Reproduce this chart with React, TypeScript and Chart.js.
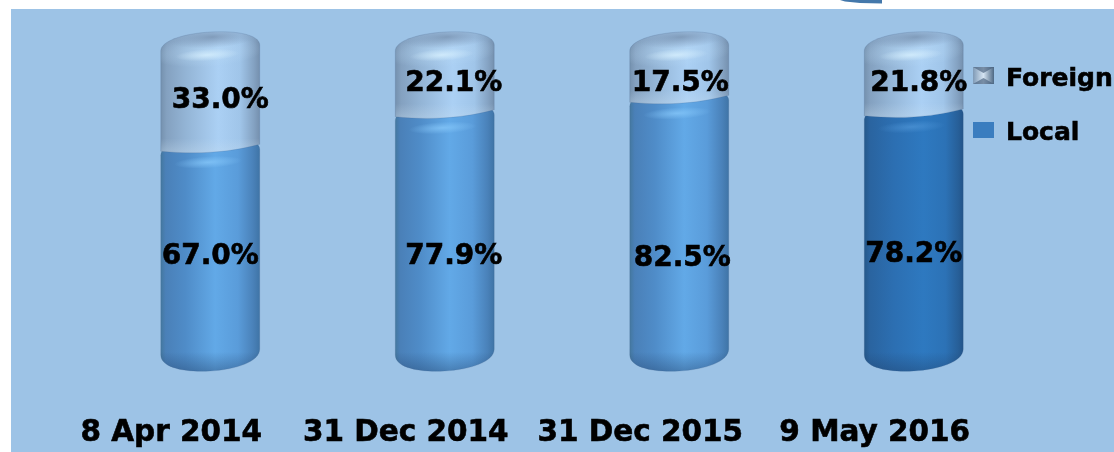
import React, { useEffect, useRef } from "react";
import { Chart, registerables } from "chart.js";

Chart.register(...registerables);

const categories = ["8 Apr 2014", "31 Dec 2014", "31 Dec 2015", "9 May 2016"];
const localValues = [67.0, 77.9, 82.5, 78.2];
const foreignValues = [33.0, 22.1, 17.5, 21.8];
const legendNames = ["Foreign", "Local"];

const FONT = '"DejaVu Sans", sans-serif';
const BG = "#9dc3e6";

type Stops = [number, string][];
const localStops: Stops = [[0, "#44789f"], [0.05, "#4a80b8"], [0.25, "#4f8cc8"], [0.55, "#62a9e7"], [0.78, "#5a9cda"], [0.93, "#4a82ba"], [1, "#3f74a6"]];
const localDarkStops: Stops = [[0, "#25588a"], [0.06, "#2a64a0"], [0.3, "#2c6fb2"], [0.6, "#2e79c0"], [0.82, "#2c72b6"], [0.95, "#275f98"], [1, "#22548a"]];
const foreignStops: Stops = [[0, "#7591ae"], [0.06, "#84a1c0"], [0.25, "#93b4d5"], [0.58, "#abd0f4"], [0.8, "#a0c5e9"], [0.94, "#84a2c2"], [1, "#7590ae"]];

const TILT = -0.06;

function cylinderPath(ctx: CanvasRenderingContext2D, cx: number, rx: number, yTop: number, yBot: number, foreign: boolean) {
  ctx.beginPath();
  // Bottom edge, right to left
  ctx.save();
  ctx.transform(1, TILT, 0, 1, cx, yBot);
  if (foreign) {
    ctx.moveTo(rx, -1);
    ctx.bezierCurveTo(rx * 0.6, 3, rx * 0.3, 4, 0, 4);
    ctx.bezierCurveTo(-rx * 0.3, 4, -rx * 0.6, 3, -rx, 0);
  } else {
    ctx.moveTo(rx, -8);
    ctx.bezierCurveTo(rx, 5, rx * 0.5, 11, 0, 11);
    ctx.bezierCurveTo(-rx * 0.5, 11, -rx, 5, -rx, -8);
  }
  ctx.restore();
  // Top edge, left to right
  ctx.save();
  ctx.transform(1, TILT, 0, 1, cx, yTop);
  ctx.lineTo(-rx, 4);
  ctx.bezierCurveTo(-rx, -6, -rx * 0.55, -12, 0, -12);
  ctx.bezierCurveTo(rx * 0.55, -12, rx, -6, rx, 4);
  ctx.restore();
  ctx.closePath();
}

function glow(ctx: CanvasRenderingContext2D, cx: number, cy: number, rx: number, ry: number, color: string, edge: string) {
  ctx.save();
  ctx.translate(cx, cy);
  ctx.rotate(TILT);
  ctx.scale(rx, ry);
  const g = ctx.createRadialGradient(0, 0, 0, 0, 0, 1);
  g.addColorStop(0, color);
  g.addColorStop(1, edge);
  ctx.fillStyle = g;
  ctx.beginPath();
  ctx.arc(0, 0, 1, 0, Math.PI * 2);
  ctx.fill();
  ctx.restore();
}

function drawSegment(ctx: CanvasRenderingContext2D, el: any, isForeign: boolean, idx: number) {
  const cx = el.x;
  const rx = el.width / 2;
  const yTop = el.y;
  const yBot = el.base;
  const dark = !isForeign && idx === 3;
  const stops = isForeign ? foreignStops : dark ? localDarkStops : localStops;
  ctx.save();
  cylinderPath(ctx, cx, rx, yTop, yBot, isForeign);
  const g = ctx.createLinearGradient(cx - rx, 0, cx + rx, 0);
  stops.forEach(([p, c]) => g.addColorStop(p, c));
  ctx.fillStyle = g;
  ctx.fill();
  ctx.clip();

  if (isForeign) {
    // Shoulder lightening, darker top face, then the highlight
    glow(ctx, cx - 4, yTop + 8, rx * 1.15, 15, "rgba(185,218,245,0.6)", "rgba(185,218,245,0)");
    glow(ctx, cx + 2, yTop - 7, rx * 0.95, 11, "rgba(122,148,178,0.85)", "rgba(125,150,180,0)");
    glow(ctx, cx - 3, yTop + 11, 32, 6, "rgba(218,242,255,0.75)", "rgba(218,242,255,0)");
    // Pale rim along the lower edge
    const b = ctx.createLinearGradient(0, yBot - 10, 0, yBot + 4);
    b.addColorStop(0, "rgba(200,222,240,0)");
    b.addColorStop(1, "rgba(200,222,240,0.35)");
    ctx.fillStyle = b;
    ctx.fillRect(cx - rx, yBot - 10, rx * 2, 16);
  } else {
    const light = dark ? "rgba(85,155,220,0.6)" : "rgba(135,200,250,0.75)";
    const lightEdge = dark ? "rgba(85,155,220,0)" : "rgba(135,200,250,0)";
    glow(ctx, cx - 2, yTop + 14, 34, 6, light, lightEdge);
    const b = ctx.createLinearGradient(0, yBot - 8, 0, yBot + 12);
    b.addColorStop(0, "rgba(30,60,100,0)");
    b.addColorStop(1, "rgba(30,60,100,0.4)");
    ctx.fillStyle = b;
    ctx.fillRect(cx - rx, yBot - 8, rx * 2, 22);
  }
  ctx.restore();

  ctx.save();
  cylinderPath(ctx, cx, rx, yTop, yBot, isForeign);
  ctx.strokeStyle = "rgba(70,100,140,0.2)";
  ctx.lineWidth = 1;
  ctx.stroke();
  ctx.restore();
}

const foreignDx = [10, 9, 1, 5];
const foreignDy = [5, 5, 12, 5];
const localDx = [0, 9, 3, 0];
const localDy = [3, 20, 29, 18];

const cylinderPlugin = {
  id: "cylinders",
  beforeDraw(chart: any) {
    const { ctx } = chart;
    ctx.save();
    ctx.fillStyle = "#ffffff";
    ctx.fillRect(0, 0, chart.width, chart.height);
    ctx.fillStyle = BG;
    ctx.fillRect(11, 9, chart.width - 11, chart.height - 9);
    // Fragment of a shape cut off by the top edge
    ctx.beginPath();
    ctx.moveTo(840, 0);
    ctx.lineTo(882, 0);
    ctx.lineTo(882, 3.5);
    ctx.lineTo(860, 3);
    ctx.lineTo(845, 1.5);
    ctx.closePath();
    ctx.fillStyle = "#4478ab";
    ctx.fill();
    ctx.restore();
  },
  beforeDatasetDraw(chart: any, args: any) {
    // Local goes first so that each Foreign lower edge lies over it
    if (chart.data.datasets[args.index].label === "Local") {
      args.meta.data.forEach((el: any, i: number) => drawSegment(chart.ctx, el, false, i));
      chart.getDatasetMeta(1).data.forEach((el: any, i: number) => drawSegment(chart.ctx, el, true, i));
    }
    return false;
  },
  afterDraw(chart: any) {
    const { ctx } = chart;
    ctx.save();
    ctx.fillStyle = "#000000";
    ctx.strokeStyle = "#000000";
    ctx.lineWidth = 0.6;
    ctx.textAlign = "center";
    ctx.textBaseline = "middle";
    ctx.font = `bold 28px ${FONT}`;
    chart.data.datasets.forEach((ds: any, d: number) => {
      const foreign = ds.label === "Foreign";
      chart.getDatasetMeta(d).data.forEach((el: any, i: number) => {
        const mid = (el.y + el.base) / 2;
        const x = el.x + (foreign ? foreignDx[i] : localDx[i]);
        const y = mid + (foreign ? foreignDy[i] : localDy[i]);
        const text = ds.data[i].toFixed(1) + "%";
        ctx.fillText(text, x, y);
        ctx.strokeText(text, x, y);
      });
    });

    // Legend
    ctx.textAlign = "left";
    ctx.textBaseline = "alphabetic";
    ctx.font = `bold 25px ${FONT}`;
    const g = ctx.createLinearGradient(973, 0, 994, 0);
    g.addColorStop(0, "#7f9ab6");
    g.addColorStop(0.5, "#d5e4f2");
    g.addColorStop(1, "#4d6884");
    ctx.fillStyle = g;
    ctx.fillRect(973, 67, 21, 17);
    ctx.fillStyle = "rgba(70,95,125,0.65)";
    ctx.beginPath();
    ctx.moveTo(973, 67); ctx.lineTo(994, 67); ctx.lineTo(983.5, 73); ctx.closePath();
    ctx.moveTo(973, 84); ctx.lineTo(994, 84); ctx.lineTo(983.5, 78); ctx.closePath();
    ctx.fill();
    ctx.fillStyle = "#3a7dbf";
    ctx.fillRect(973, 122, 21, 16);
    ctx.fillStyle = "#000000";
    ctx.fillText(legendNames[0], 1006, 86);
    ctx.strokeText(legendNames[0], 1006, 86);
    ctx.fillText(legendNames[1], 1006, 140);
    ctx.strokeText(legendNames[1], 1006, 140);
    ctx.restore();
  },
};

export default function App() {
  const ref = useRef<HTMLCanvasElement>(null);
  useEffect(() => {
    const chart = new Chart(ref.current!, {
      type: "bar",
      plugins: [cylinderPlugin],
      data: {
        labels: categories,
        datasets: [
          { label: "Local", data: localValues, backgroundColor: "#5b9bd5", categoryPercentage: 1, barPercentage: 0.422 },
          { label: "Foreign", data: foreignValues, backgroundColor: "#a5c8ea", categoryPercentage: 1, barPercentage: 0.422 },
        ],
      } as any,
      options: {
        responsive: false,
        animation: false,
        layout: { padding: { left: 93, right: 83, top: 44, bottom: 0 } },
        plugins: { legend: { display: false }, tooltip: { enabled: false }, title: { display: false } },
        scales: {
          x: {
            stacked: true,
            grid: { display: false },
            border: { display: false },
            afterFit: (s: any) => { s.height = 92; },
            ticks: {
              color: "#000000",
              font: { family: FONT, weight: "bold", size: 29.5 },
              textStrokeColor: "#000000",
              textStrokeWidth: 0.6,
              labelOffset: -39,
              padding: 48,
              autoSkip: false,
              maxRotation: 0,
              minRotation: 0,
            },
          },
          y: { stacked: true, display: false, min: 0, max: 100 },
        },
      } as any,
    });
    return () => chart.destroy();
  }, []);
  return (
    <canvas
      ref={ref}
      width={1114}
      height={452}
      style={{ position: "absolute", left: 0, top: 0, display: "block" }}
    />
  );
}
